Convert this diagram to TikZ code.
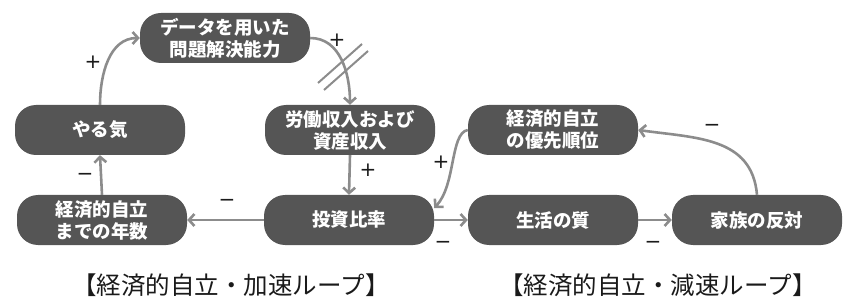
\documentclass[tikz,border=0pt]{standalone}
\usepackage{fontspec}
\newfontfamily\jp{Noto Sans CJK JP}
\newfontfamily\signfont{DejaVu Sans}
\usetikzlibrary{arrows.meta}
\definecolor{boxfill}{HTML}{555555}
\definecolor{arrgray}{HTML}{8C8C8C}
\definecolor{txtdark}{HTML}{1A1A1A}
\tikzset{
  var/.style={draw=none, fill=boxfill, rounded corners=21pt, minimum width=170pt, minimum height=50pt,
    inner sep=0pt, align=center, text=white, font=\jp\bfseries\fontsize{18.5}{22}\selectfont},
  link/.style={draw=arrgray, line width=2.6pt, -{Straight Barb[length=5.5pt,width=12pt]}},
  sign/.style={inner sep=0pt, text=txtdark, font=\signfont\fontsize{20}{20}\selectfont},
  looptitle/.style={inner sep=0pt, text=txtdark, font=\jp\fontsize{24.5}{24.5}\selectfont},
  delay/.style={draw=arrgray, line width=2pt}
}
\begin{document}
\begin{tikzpicture}[x=1pt,y=1pt]
\useasboundingbox (0,0) rectangle (851,-307);
% nodes
\node[var] (data) at (225,-38) {データを用いた\\問題解決能力};
\node[var] (yaruki) at (100,-130) {やる気};
\node[var] (labor) at (350,-130) {労働収入および\\資産収入};
\node[var] (prio) at (553,-130) {経済的自立\\の優先順位};
\node[var] (years) at (102,-220) {経済的自立\\までの年数};
\node[var] (invest) at (349,-220) {投資比率};
\node[var] (life) at (553,-220) {生活の質};
\node[var] (family) at (757,-220) {家族の反対};
% connectors
\draw[link] (yaruki.north) to[out=90,in=180] (data.west);
\draw[link] (data.east) to[out=0,in=90] (labor.north);
\draw[link] (labor.south) -- (invest.north);
\draw[link] (invest.west) -- (years.east);
\draw[link] (years.north) -- (yaruki.south);
\draw[link] (invest.east) -- (life.west);
\draw[link] (life.east) -- (family.west);
\draw[link] (family.north) to[out=95,in=-8,looseness=1.1] (prio.east);
\draw[link] (prio.west) .. controls (450,-133) and (456,-185) .. (invest.8);
% delay marks
\draw[delay] (318,-83) -- (362,-44);
\draw[delay] (324,-90) -- (368,-51);
% signs
\node[sign] (s1) at (93,-62) {+};
\node[sign] (s2) at (337,-40) {+};
\node[sign] (s3) at (368,-170) {+};
\node[sign] (s4) at (227,-203) {−};
\node[sign] (s5) at (85,-177) {−};
\node[sign] (s6) at (441,-162) {+};
\node[sign] (s7) at (443,-245) {−};
\node[sign] (s8) at (653,-245) {−};
\node[sign] (s9) at (712,-128) {−};
% titles
\node[looptitle] (t1) at (231,-285) {【経済的自立・加速ループ】};
\node[looptitle] (t2) at (658,-285) {【経済的自立・減速ループ】};
\end{tikzpicture}
\end{document}
